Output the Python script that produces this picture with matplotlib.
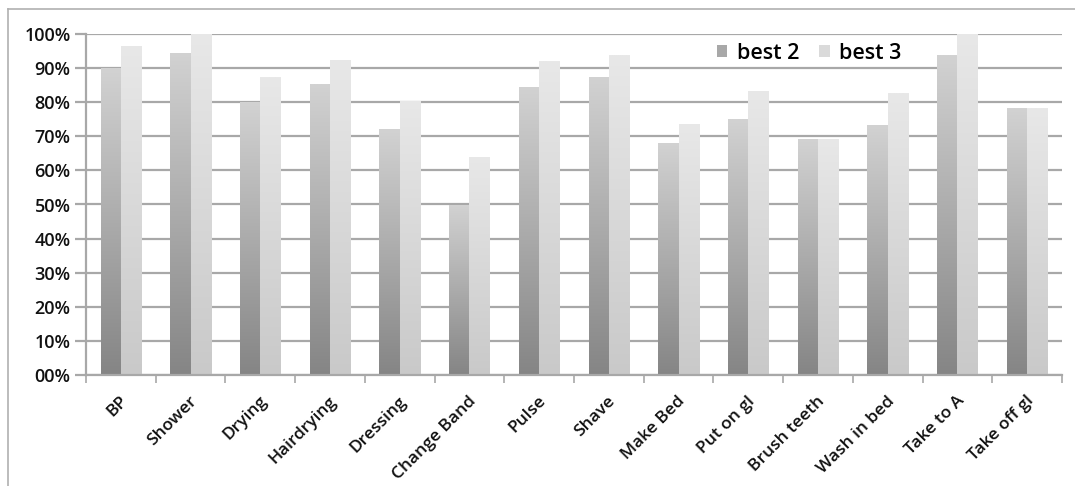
import numpy as np
import matplotlib
matplotlib.use("Agg")
import matplotlib.pyplot as plt
from matplotlib.colors import LinearSegmentedColormap
from matplotlib.lines import Line2D
from matplotlib.patches import Rectangle

categories = ["BP", "Shower", "Drying", "Hairdrying", "Dressing", "Change Band", "Pulse",
              "Shave", "Make Bed", "Put on gl", "Brush teeth", "Wash in bed", "Take to A", "Take off gl"]
best2 = [0.90, 0.945, 0.80, 0.853, 0.72, 0.50, 0.845, 0.875, 0.68, 0.75, 0.692, 0.733, 0.938, 0.782]
best3 = [0.965, 1.00, 0.873, 0.924, 0.804, 0.64, 0.92, 0.937, 0.736, 0.834, 0.692, 0.826, 1.00, 0.782]
series_names = ["best 2", "best 3"]
yticks = [0.0, 0.1, 0.2, 0.3, 0.4, 0.5, 0.6, 0.7, 0.8, 0.9, 1.0]

plt.rcParams['font.family'] = ['Open Sans', 'DejaVu Sans']
FAM = ['Open Sans', 'DejaVu Sans']

W, H = 1075, 486
fig = plt.figure(figsize=(W / 100, H / 100), dpi=100)
ax = fig.add_axes([86 / W, (H - 375) / H, (1062 - 86) / W, (375 - 34) / H])

x = np.arange(len(categories))
bw = 0.29
cmaps = [
    LinearSegmentedColormap.from_list("b2", ["#858585", "#d2d2d2"]),
    LinearSegmentedColormap.from_list("b3", ["#c9c9c9", "#e8e8e8"]),
]
grad = np.linspace(0, 1, 256).reshape(-1, 1)

for si, vals in enumerate([best2, best3]):
    offs = (si - 0.5) * bw
    bars = ax.bar(x + offs, vals, width=bw, color="none", edgecolor="none", zorder=2)
    for b in bars:
        x0, y0 = b.get_x(), b.get_y()
        w, h = b.get_width(), b.get_height()
        im = ax.imshow(grad, cmap=cmaps[si], origin="lower", aspect="auto",
                       extent=[x0, x0 + w, y0, y0 + h], zorder=2, interpolation="bilinear")
        im.set_clip_path(b)

ax.set_xlim(-0.5, len(categories) - 0.5)
ax.set_ylim(0, 1.0)
ax.set_yticks(yticks)
ax.set_yticklabels(["%02d%%" % round(v * 100) for v in yticks], fontsize=13,
                   color="#111111", fontweight="semibold")
ax.yaxis.grid(True, color="#a8a8a8", linewidth=1.6, zorder=0)
ax.set_axisbelow(True)

ax.set_xticks(np.arange(len(categories) + 1) - 0.5)
ax.set_xticklabels([])
ax.tick_params(axis="x", length=6, color="#a8a8a8", width=1.2, direction="out")
ax.tick_params(axis="y", length=8, color="#a8a8a8", width=1.6, pad=3)

for i, c in enumerate(categories):
    ax.annotate(c, xy=(i, 0), xycoords="data", xytext=(3, -17), textcoords="offset points",
                rotation=45, rotation_mode="anchor", ha="right", va="center",
                fontsize=12.5, color="#111111", fontweight="semibold")

for s in ["top", "right"]:
    ax.spines[s].set_visible(False)
ax.spines["left"].set_color("#a8a8a8")
ax.spines["bottom"].set_color("#a8a8a8")
ax.spines["left"].set_linewidth(1.6)
ax.spines["bottom"].set_linewidth(1.6)

# legend
handles = [Rectangle((0, 0), 1, 1, facecolor="#a8a8a8"), Rectangle((0, 0), 1, 1, facecolor="#dadada")]
ax.legend(handles, series_names, loc="upper left", bbox_to_anchor=((708 - 86) / (1062 - 86), 1.0),
          ncol=2, frameon=False, handlelength=0.5, handleheight=0.5,
          handletextpad=0.45, columnspacing=0.9, borderaxespad=0.0,
          prop={"family": FAM, "size": 15.5, "weight": "semibold"})

# outer frame
fig.add_artist(Line2D([8 / W, 1.0], [1 - 9 / H, 1 - 9 / H], color="#b0b0b0", linewidth=1.2))
fig.add_artist(Line2D([8 / W, 8 / W], [0, 1 - 9 / H], color="#b0b0b0", linewidth=1.2))

fig.savefig("out.png", dpi=100)
